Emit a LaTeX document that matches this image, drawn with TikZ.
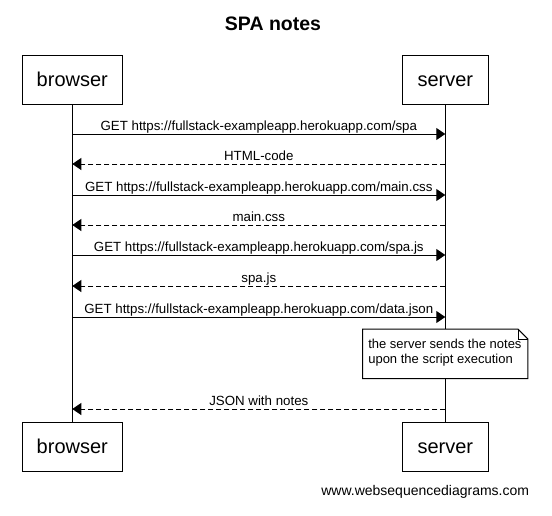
\documentclass[tikz,border=0pt]{standalone}
\usepackage{fontspec}
\setmainfont{Liberation Sans}
\usetikzlibrary{arrows.meta}
\tikzset{>={Triangle[length=9pt,width=12pt]}}
\tikzset{
  actor/.style={draw, line width=1pt, minimum height=49pt, inner sep=0pt,
    font=\fontsize{20}{24}\selectfont, text height=13pt, text depth=0pt},
  lifeline/.style={line width=1pt},
  call/.style={->, line width=1pt},
  reply/.style={->, line width=1pt, dash pattern=on 5pt off 3pt},
  msglabel/.style={midway, anchor=base, yshift=4pt, inner sep=0pt,
    font=\fontsize{13.3}{16}\selectfont},
  notearea/.style={inner sep=0pt, minimum width=165pt, minimum height=49pt},
  notetext/.style={inner sep=0pt, align=left, font=\fontsize{13}{15}\selectfont},
  notebox/.style={draw, line width=1pt, fill=white},
}

\begin{document}
\begin{tikzpicture}[x=1pt, y=-1pt]
    \useasboundingbox (0,0) rectangle (552,515);
    \node[anchor=base, inner sep=0pt, font=\bfseries\fontsize{19.5}{23}\selectfont] (title) at (273,30) {SPA notes};
    % participants
    \node[actor, minimum width=100pt] (browserTop) at (72.3,79.5) {browser};
    \node[actor, minimum width=86pt] (serverTop) at (445.3,79.5) {server};
    \node[actor, minimum width=100pt] (browserBot) at (72.3,446.7) {browser};
    \node[actor, minimum width=86pt] (serverBot) at (445.3,446.7) {server};
    \draw[lifeline] (browserTop) -- (browserBot);
    \draw[lifeline] (serverTop) -- (serverBot);
    % message rows
    \foreach \y [count=\i] in {134,164,195,225,255,286,317,409} {
      \coordinate (b\i) at (browserTop.south |- 0,\y);
      \coordinate (s\i) at (serverTop.south |- 0,\y);
    }
    \draw[call] (b1) -- (s1) node[msglabel] {GET https://fullstack-exampleapp.herokuapp.com/spa};
    \draw[reply] (s2) -- (b2) node[msglabel] {HTML-code};
    \draw[call] (b3) -- (s3) node[msglabel] {GET https://fullstack-exampleapp.herokuapp.com/main.css};
    \draw[reply] (s4) -- (b4) node[msglabel] {main.css};
    \draw[call] (b5) -- (s5) node[msglabel] {GET https://fullstack-exampleapp.herokuapp.com/spa.js};
    \draw[reply] (s6) -- (b6) node[msglabel] {spa.js};
    \draw[call] (b7) -- (s7) node[msglabel] {GET https://fullstack-exampleapp.herokuapp.com/data.json};
    % note over server
    \node[notearea] (note) at (445.2,353.8) {};
    \draw[notebox] (note.north west) -- ([xshift=-10pt]note.north east)
      -- ([yshift=-10pt]note.north east) -- (note.south east)
      -- (note.south west) -- cycle;
    \draw[line width=0.6pt] ([xshift=-10pt]note.north east) |- ([yshift=-10pt]note.north east);
    \node[notetext, anchor=west] (notelabel) at ([xshift=5.6pt,yshift=1pt]note.west) {the server sends the notes\\upon the script execution};
    \draw[reply] (s8) -- (b8) node[msglabel] {JSON with notes};
    \node[anchor=base east, inner sep=0pt, font=\fontsize{14}{16}\selectfont] (footer) at (529.3,495) {www.websequencediagrams.com};
\end{tikzpicture}
\end{document}
